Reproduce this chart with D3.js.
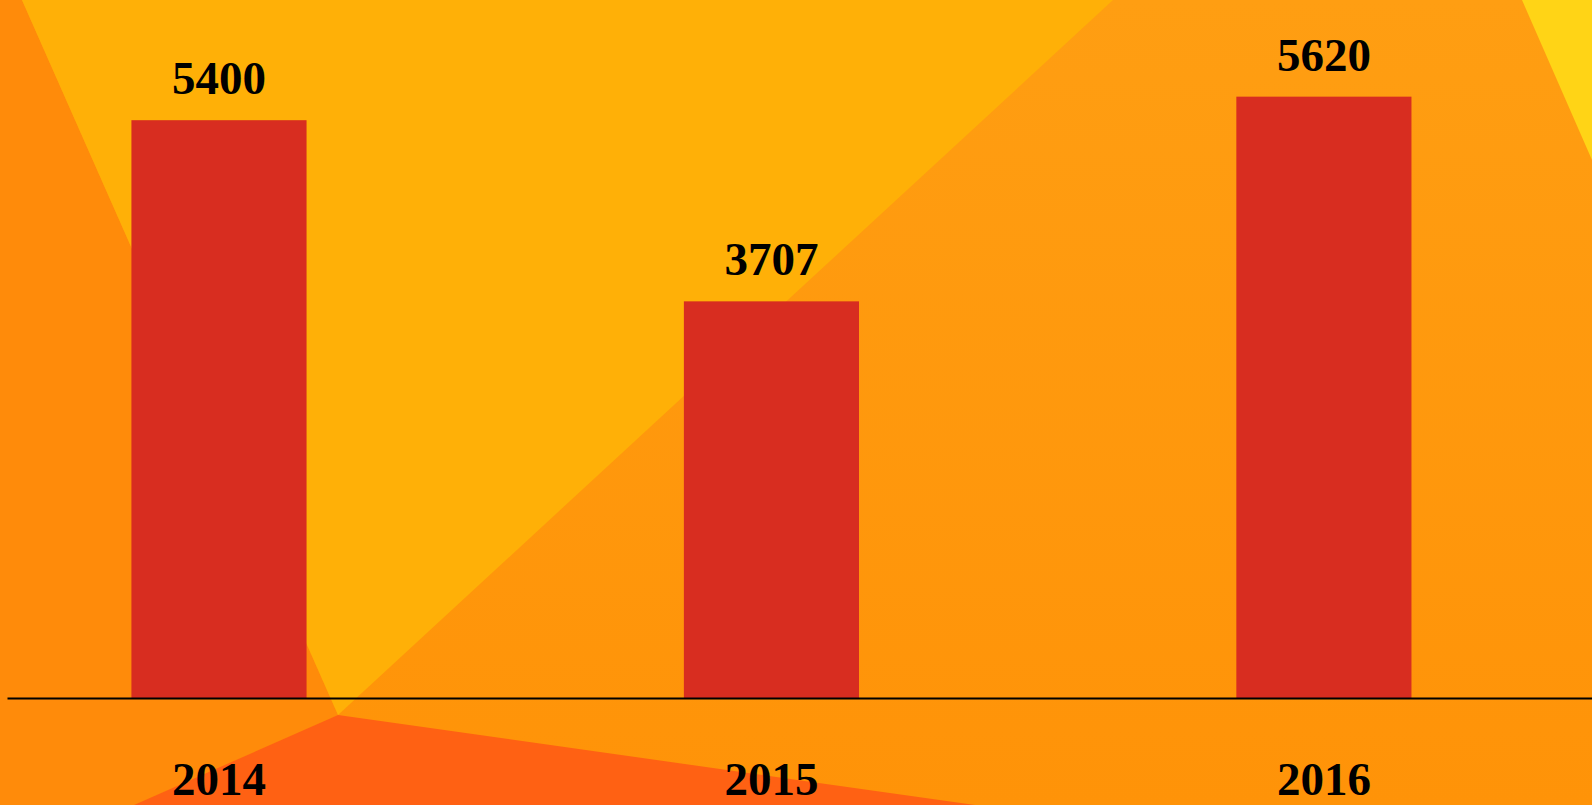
<!DOCTYPE html>
<html>
<head>
<meta charset="utf-8">
<script src="https://cdn.jsdelivr.net/npm/d3@7"></script>
<style>
  html, body { margin: 0; padding: 0; overflow: hidden; }
  svg { display: block; }
</style>
</head>
<body>
<script>
var width = 1592,
    height = 805;

var years = ["2014", "2015", "2016"];
var values = [5400, 3707, 5620];

// background facets (decoration only)
var bgShapes = [
  { fill: "#ff8b0a", pts: [[0, 0], [22, 0], [338, 715], [134, 805], [0, 805]] },
  { fill: "#ffb007", pts: [[22, 0], [1113, 0], [338, 715]] },
  { fill: "#ff6113", pts: [[338, 715], [134, 805], [975, 805]] },
  { fill: "#ffd416", pts: [[1522, 0], [1592, 0], [1592, 160]] }
];

var baseY = 698;

var svg = d3.select("body")
  .append("svg")
  .attr("width", width)
  .attr("height", height);

var defs = svg.append("defs");
var grad = defs.append("linearGradient")
  .attr("id", "bgGrad")
  .attr("x1", "0").attr("y1", "0")
  .attr("x2", "0").attr("y2", "1");
grad.append("stop").attr("offset", "0%").attr("stop-color", "#ff9e12");
grad.append("stop").attr("offset", "100%").attr("stop-color", "#ff9308");

svg.append("rect")
  .attr("width", width)
  .attr("height", height)
  .attr("fill", "url(#bgGrad)");

svg.selectAll("polygon.bg")
  .data(bgShapes)
  .enter()
  .append("polygon")
  .attr("class", "bg")
  .attr("points", function(d) { return d.pts.map(function(p) { return p.join(","); }).join(" "); })
  .attr("fill", function(d) { return d.fill; });

var xScale = d3.scaleBand()
  .domain(years)
  .range([7, width])
  .paddingInner(0.683)
  .paddingOuter(0.276)
  .align(0.408);

var yScale = d3.scaleLinear()
  .domain([0, 6000])
  .range([baseY, 56]);

var data = years.map(function(y, i) { return { year: y, value: values[i] }; });

// bars
svg.selectAll("rect.bar")
  .data(data)
  .enter()
  .append("rect")
  .attr("class", "bar")
  .attr("x", function(d) { return xScale(d.year); })
  .attr("y", function(d) { return yScale(d.value); })
  .attr("width", xScale.bandwidth())
  .attr("height", function(d) { return baseY - yScale(d.value); })
  .attr("fill", "#d82d20");

// value labels
svg.selectAll("text.val")
  .data(data)
  .enter()
  .append("text")
  .attr("class", "val")
  .attr("x", function(d) { return xScale(d.year) + xScale.bandwidth() / 2; })
  .attr("y", function(d) { return yScale(d.value) - 26; })
  .attr("text-anchor", "middle")
  .attr("font-family", "'Liberation Serif', 'Times New Roman', serif")
  .attr("font-weight", "bold")
  .attr("font-size", "47px")
  .attr("fill", "#000")
  .text(function(d) { return d.value; });

// x axis
var xAxis = d3.axisBottom(xScale)
  .tickSize(0)
  .tickSizeOuter(0)
  .tickPadding(64);

var gx = svg.append("g")
  .attr("transform", "translate(0," + baseY + ")")
  .call(xAxis);

gx.select(".domain")
  .attr("stroke", "#000")
  .attr("stroke-width", 2);

gx.selectAll(".tick text")
  .attr("font-family", "'Liberation Serif', 'Times New Roman', serif")
  .attr("font-weight", "bold")
  .attr("font-size", "47px")
  .attr("fill", "#000");
</script>
</body>
</html>
